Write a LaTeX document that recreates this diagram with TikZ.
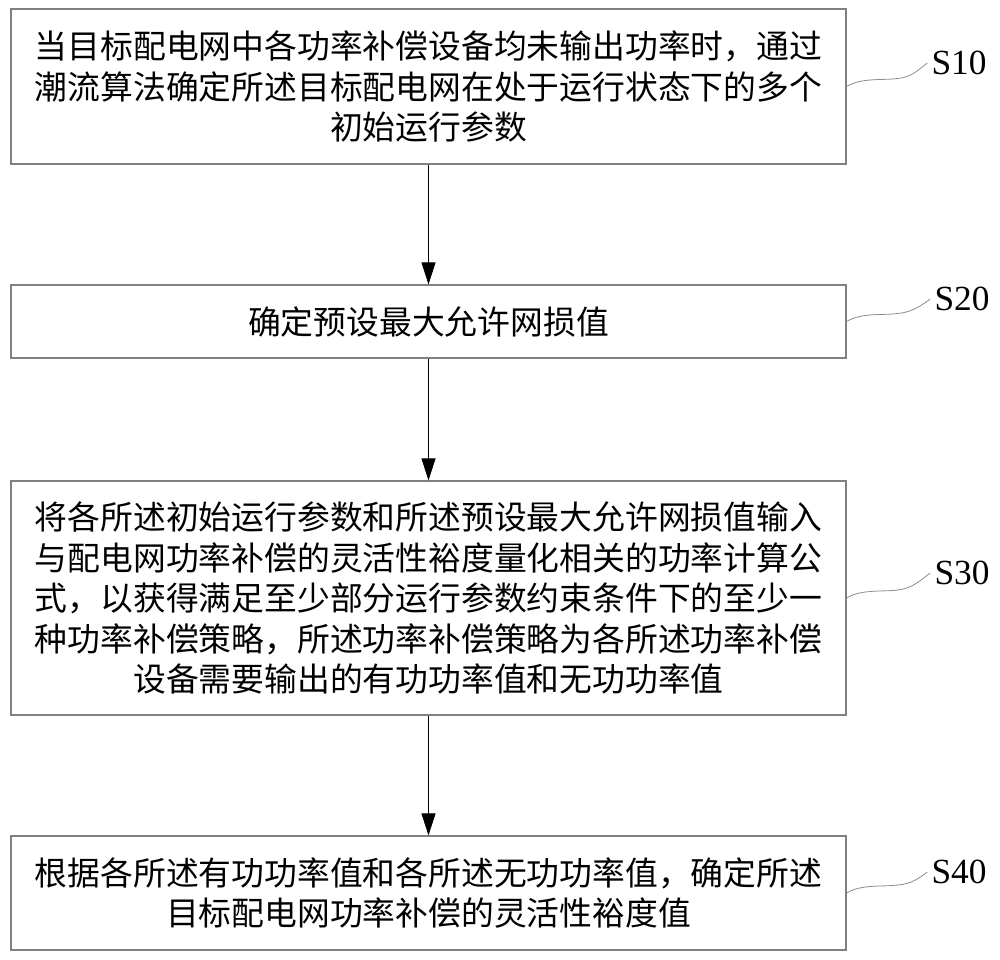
\documentclass[tikz,border=0pt]{standalone}
\usepackage{fontspec}
\setmainfont{Liberation Serif}
\newfontfamily\cjk{Noto Sans CJK SC}
\usetikzlibrary{arrows.meta}
\definecolor{boxgray}{RGB}{128,128,128}
\definecolor{wavegray}{RGB}{140,140,140}
\begin{document}
\begin{tikzpicture}[x=0.75pt,y=-0.75pt,
  stepbox/.style={draw=boxgray, line width=0.9pt, minimum width=626.25pt, inner sep=0pt,
    align=center, font=\cjk\fontsize{24.6pt}{30.4pt}\selectfont},
  steplabel/.style={inner sep=3pt, font=\fontsize{26.5pt}{30pt}\selectfont},
  flow/.style={draw=black, line width=0.6pt, -{Triangle[length=16.5pt,width=10.5pt]}},
  wave/.style={draw=wavegray, line width=0.6pt}]
\fill[white] (0,0) rectangle (1000,960);
\useasboundingbox (0,0) rectangle (1000,960);

\node[stepbox, minimum height=116.25pt] (s10) at (428.5,86.5)
  {当目标配电网中各功率补偿设备均未输出功率时，通过\\潮流算法确定所述目标配电网在处于运行状态下的多个\\初始运行参数};
\node[stepbox, minimum height=54.75pt] (s20) at (428.5,321.5)
  {确定预设最大允许网损值};
\node[stepbox, minimum height=175.5pt] (s30) at (428.5,598)
  {将各所述初始运行参数和所述预设最大允许网损值输入\\与配电网功率补偿的灵活性裕度量化相关的功率计算公\\式，以获得满足至少部分运行参数约束条件下的至少一\\种功率补偿策略，所述功率补偿策略为各所述功率补偿\\设备需要输出的有功功率值和无功功率值};
\node[stepbox, minimum height=85.5pt] (s40) at (428.5,893)
  {根据各所述有功功率值和各所述无功功率值，确定所述\\目标配电网功率补偿的灵活性裕度值};

\node[steplabel] (l10) at (959,63) {S10};
\node[steplabel] (l20) at (962,299) {S20};
\node[steplabel] (l30) at (962,573) {S30};
\node[steplabel] (l40) at (959,872) {S40};

\draw[flow] (s10) -- (s20);
\draw[flow] (s20) -- (s30);
\draw[flow] (s30) -- (s40);

\foreach \b/\l in {s10/l10, s20/l20, s30/l30, s40/l40}{
  \draw[wave] (\b.east) .. controls +(15,-9) and +(-16,2) .. ++(51,-8)
    .. controls +(14,-1) and +(-8,6) .. (\l.west);
}
\end{tikzpicture}
\end{document}
